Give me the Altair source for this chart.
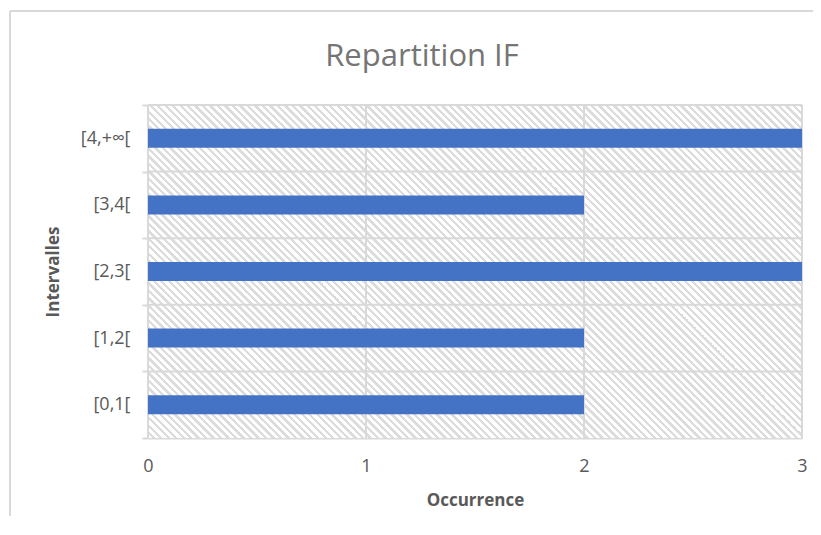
import altair as alt
import pandas as pd

# ---- data ----
categories = ["[4,+∞[", "[3,4[", "[2,3[", "[1,2[", "[0,1["]
values = [3, 2, 3, 2, 2]
x_ticks = [0, 1, 2, 3]
title_text = "Repartition IF"
x_title = "Occurrence"
y_title = "Intervalles"

df = pd.DataFrame({"cat": categories, "val": values})
ticks_df = pd.DataFrame({"v": x_ticks})

W, H = 654, 333
FONT = "Open Sans"
GRID = "#d9d9d9"
TXT = "#595959"

# hatch pattern built as a striped linear gradient (45° downward diagonal)
period_px = 7.5
n = int(round((W + H) / period_px))
stops = []
for i in range(n):
    a = i / n
    b = (i + 0.55) / n
    c = (i + 1) / n
    stops += [
        alt.GradientStop(offset=a, color="#ffffff"),
        alt.GradientStop(offset=b, color="#ffffff"),
        alt.GradientStop(offset=b, color="#dcdcdc"),
        alt.GradientStop(offset=c, color="#dcdcdc"),
    ]
k = (W + H) / (W * W + H * H)
hatch_grad = alt.Gradient(
    gradient="linear", stops=stops,
    x1=0, y1=1, x2=W * k, y2=1 - H * k,
)

band = alt.Scale(paddingInner=0, paddingOuter=0)
xscale = alt.Scale(domain=[0, 3], nice=False)

hatch = alt.Chart(pd.DataFrame({"a": [0]})).mark_rect(
    fill=hatch_grad, strokeWidth=0
).encode(x=alt.datum(0, scale=xscale), x2=alt.datum(3))

vgrid = alt.Chart(ticks_df).mark_rule(color=GRID, strokeWidth=2).encode(
    x=alt.X("v:Q", scale=xscale)
)
hgrid = alt.Chart(df).mark_rule(color=GRID, strokeWidth=2).encode(
    y=alt.Y("cat:N", sort=categories, bandPosition=0, scale=band)
)

bars = alt.Chart(df).mark_bar(color="#4472C4", size=19).encode(
    x=alt.X("val:Q", scale=xscale,
            axis=alt.Axis(values=x_ticks, format="d", title=x_title,
                          grid=False, ticks=False, tickSize=0, labelFlush=False,
                          labelPadding=19, labelFontSize=18, labelColor=TXT,
                          labelFont=FONT, domainColor=GRID, domainWidth=2,
                          titleFont=FONT, titleFontSize=17, titleFontWeight="bold",
                          titleColor=TXT, titlePadding=17)),
    y=alt.Y("cat:N", sort=categories, scale=band,
            axis=alt.Axis(title=y_title, grid=False, domain=False,
                          tickBand="extent", tickSize=6, tickColor=GRID, tickWidth=2,
                          labelPadding=12, labelFontSize=18, labelColor=TXT,
                          labelFont=FONT, titleFont=FONT, titleFontSize=17,
                          titleFontWeight="bold", titleColor=TXT, titlePadding=18)),
)

frame_top = alt.Chart(pd.DataFrame({"a": [0]})).mark_rule(
    color=GRID, strokeWidth=2, clip=False
).encode(x=alt.value(-138), x2=alt.value(665), y=alt.value(-94), y2=alt.value(-94))
frame_left = alt.Chart(pd.DataFrame({"a": [0]})).mark_rule(
    color=GRID, strokeWidth=2, clip=False
).encode(x=alt.value(-138), x2=alt.value(-138), y=alt.value(-94), y2=alt.value(470))

title = alt.Chart(pd.DataFrame({"t": [title_text]})).mark_text(
    font=FONT, fontSize=31, color="#757575", align="center", baseline="alphabetic"
).encode(x=alt.value(274), y=alt.value(-39), text="t:N")

chart = alt.layer(frame_top, frame_left, hatch, vgrid, hgrid, bars, title).properties(
    width=W, height=H,
    autosize=alt.AutoSizeParams(type="none"),
    padding={"left": 140, "top": 97, "right": 11, "bottom": 78},
).configure_view(stroke=None)

chart.save("out.html", embed_options={"renderer": "svg", "actions": False})
